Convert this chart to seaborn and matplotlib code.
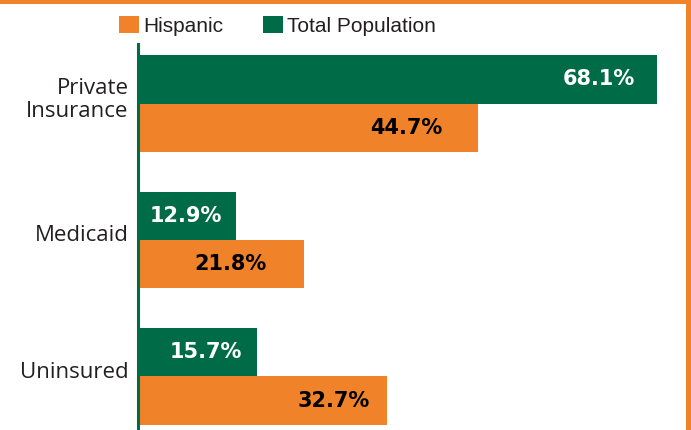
import matplotlib
matplotlib.use("Agg")
import matplotlib.pyplot as plt
import matplotlib.transforms as mtransforms
from matplotlib.patches import Rectangle
from matplotlib.font_manager import FontProperties
import seaborn as sns
import pandas as pd

# ---- data ----
categories = ["Private\nInsurance", "Medicaid", "Uninsured"]
series_names = ["Total Population", "Hispanic"]
total_population = [68.1, 12.9, 15.7]
hispanic = [44.7, 21.8, 32.7]

df = pd.DataFrame({
    "category": categories * 2,
    "group": [series_names[0]] * 3 + [series_names[1]] * 3,
    "value": total_population + hispanic,
})

# ---- style ----
GREEN = "#006B47"
ORANGE = "#F0822A"
TEXT = "#231F20"

sns.set_style("white")
plt.rcParams["font.family"] = ["Open Sans", "DejaVu Sans"]

W, H = 691, 430
fig = plt.figure(figsize=(W / 100, H / 100), dpi=100)
ax = fig.add_axes([137.5 / W, 0, (680 - 137.5) / W, (H - 44) / H])

sns.barplot(data=df, y="category", x="value", hue="group",
            hue_order=series_names, order=categories, orient="h",
            palette={series_names[0]: GREEN, series_names[1]: ORANGE},
            saturation=1, width=0.71, gap=0, linewidth=0, edgecolor="none",
            ax=ax, legend=True)

ax.set_xlim(0, 71.12)
ax.set_ylim(2.392, -0.436)
ax.set_xlabel("")
ax.set_ylabel("")
ax.set_xticks([])
for s in ["top", "right", "bottom"]:
    ax.spines[s].set_visible(False)
ax.spines["left"].set_color(GREEN)
ax.spines["left"].set_linewidth(2.2)
ax.spines["left"].set_zorder(5)
ax.tick_params(axis="y", length=0, pad=6.5, labelsize=16, labelcolor=TEXT)
shift = mtransforms.ScaledTranslation(0, 5 / 72, fig.dpi_scale_trans)
for lbl in ax.get_yticklabels():
    lbl.set_linespacing(1.12)
    lbl.set_transform(lbl.get_transform() + shift)

# ---- value labels (offsets in px from bar end) ----
label_offsets = [[-22, -14, -15], [-36, -37, -17]]
label_colors = ["white", "black"]
for ci, cont in enumerate(ax.containers):
    for bi, bar in enumerate(cont):
        w = bar.get_width()
        yc = bar.get_y() + bar.get_height() / 2
        ax.annotate(f"{w:.1f}%", xy=(w, yc),
                    xytext=(label_offsets[ci][bi] * 0.72, 0),
                    textcoords="offset points", ha="right", va="center",
                    fontsize=15, fontweight="bold", family="DejaVu Sans",
                    color=label_colors[ci])

# ---- legend ----
handles, labels = ax.get_legend_handles_labels()
ax.get_legend().remove()
fs_pt = 15
fs_px = fs_pt * 100 / 72
fig.legend(handles[::-1], labels[::-1], loc="upper left",
           bbox_to_anchor=(119 / W, 1 - 16 / H), ncol=2, frameon=False,
           borderpad=0, borderaxespad=0,
           prop=FontProperties(family="Liberation Sans", size=fs_pt),
           labelcolor=TEXT,
           handlelength=20 / fs_px, handleheight=19 / fs_px,
           handletextpad=4 / fs_px, columnspacing=40 / fs_px)

# ---- orange frame (top and right) ----
fig.patches.append(Rectangle((0, 1 - 3.5 / H), 1, 3.5 / H, transform=fig.transFigure,
                             facecolor=ORANGE, edgecolor="none", zorder=10))
fig.patches.append(Rectangle((686 / W, 0), 5 / W, 1, transform=fig.transFigure,
                             facecolor=ORANGE, edgecolor="none", zorder=10))

fig.savefig("out.png", dpi=100)
